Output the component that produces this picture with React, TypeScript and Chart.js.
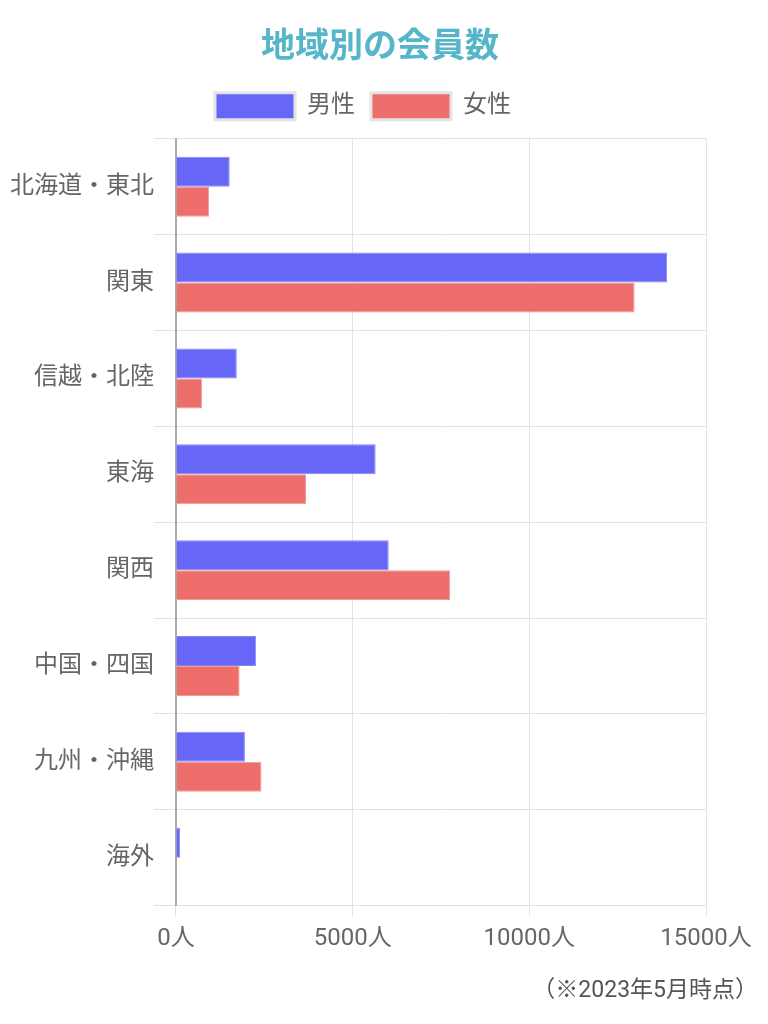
import React, { useEffect, useRef } from "react";
import { Chart, registerables } from "chart.js";

Chart.register(...registerables);

const regions = ["北海道・東北", "関東", "信越・北陸", "東海", "関西", "中国・四国", "九州・沖縄", "海外"];
const maleCounts = [1520, 13900, 1720, 5650, 6020, 2270, 1950, 120];
const femaleCounts = [940, 12980, 740, 3680, 7760, 1800, 2420, 30];
const xTicks = [0, 5000, 10000, 15000];
const titleText = "地域別の会員数";
const footnote = "（※2023年5月時点）";

const FONT = "Roboto, 'Noto Sans CJK JP', sans-serif";

function shiftDraw(box: any, dx: number, dy: number) {
  if (!box) return;
  const origDraw = box.draw;
  box.draw = function (...args: any[]) {
    const c = this.ctx;
    c.save();
    c.translate(dx, dy);
    origDraw.apply(this, args);
    c.restore();
  };
}

const headerTweak = {
  id: "headerTweak",
  beforeInit(chart: any) {
    const legend = chart.legend;
    if (legend) {
      const origFit = legend.fit;
      legend.fit = function () {
        origFit.call(this);
        this.height += 10;
      };
      shiftDraw(legend, -21, 1);
    }
    shiftDraw(chart.titleBlock, -4, 0);
  },
};

export default function App() {
  const ref = useRef<HTMLCanvasElement>(null);
  useEffect(() => {
    document.body.style.margin = "0";
    const ctx = ref.current!;
    const chart = new Chart(ctx, {
      type: "bar",
      data: {
        labels: regions,
        datasets: [
          {
            label: "男性",
            data: maleCounts,
            backgroundColor: "#6666f7",
            borderColor: "#8585f8",
            borderWidth: 1,
            barPercentage: 1,
            categoryPercentage: 0.625,
          },
          {
            label: "女性",
            data: femaleCounts,
            backgroundColor: "#ee6e6b",
            borderColor: "#f29a98",
            borderWidth: 1,
            barPercentage: 1,
            categoryPercentage: 0.625,
          },
        ],
      },
      options: {
        indexAxis: "y",
        animation: false,
        responsive: true,
        maintainAspectRatio: false,
        layout: { padding: { top: 18, right: 10, left: 10, bottom: 19 } },
        scales: {
          x: {
            min: 0,
            max: 15000,
            afterBuildTicks: (axis: any) => {
              axis.ticks = xTicks.map((v) => ({ value: v }));
            },
            afterFit: (axis: any) => {
              axis.paddingRight = 62;
            },
            ticks: {
              color: "#666",
              font: { family: FONT, size: 24 },
              padding: 9,
              callback: (v: any) => v + "人",
            },
            grid: { color: "#e2e2e2", tickLength: 10 },
            border: { color: "#e2e2e2" },
          },
          y: {
            ticks: {
              color: "#666",
              font: { family: FONT, size: 24 },
              padding: 0,
            },
            grid: { color: "#e2e2e2", tickLength: 22, offset: true },
            border: { color: "#aaaaaa", width: 2 },
          },
        },
        plugins: {
          title: {
            display: true,
            text: titleText,
            color: "#55b5c9",
            font: { family: FONT, size: 34, weight: "bold" },
            padding: { top: 10, bottom: 7 },
          },
          subtitle: {
            display: true,
            text: footnote,
            position: "bottom",
            align: "end",
            color: "#555",
            font: { family: FONT, size: 23 },
            padding: { top: 15, bottom: 0 },
          },
          legend: {
            labels: {
              color: "#666",
              font: { family: FONT, size: 24 },
              boxWidth: 80,
              boxHeight: 27,
              padding: 16,
              generateLabels: (chart: any) => {
                const items = Chart.defaults.plugins.legend.labels.generateLabels(chart);
                return items.map((it: any) => ({ ...it, strokeStyle: "#e4e4e4", lineWidth: 3 }));
              },
            },
          },
          tooltip: { enabled: false },
        },
      } as any,
      plugins: [headerTweak],
    });
    return () => chart.destroy();
  }, []);
  return (
    <div style={{ position: "relative", width: 768, height: 1024 }}>
      <canvas ref={ref} />
    </div>
  );
}
